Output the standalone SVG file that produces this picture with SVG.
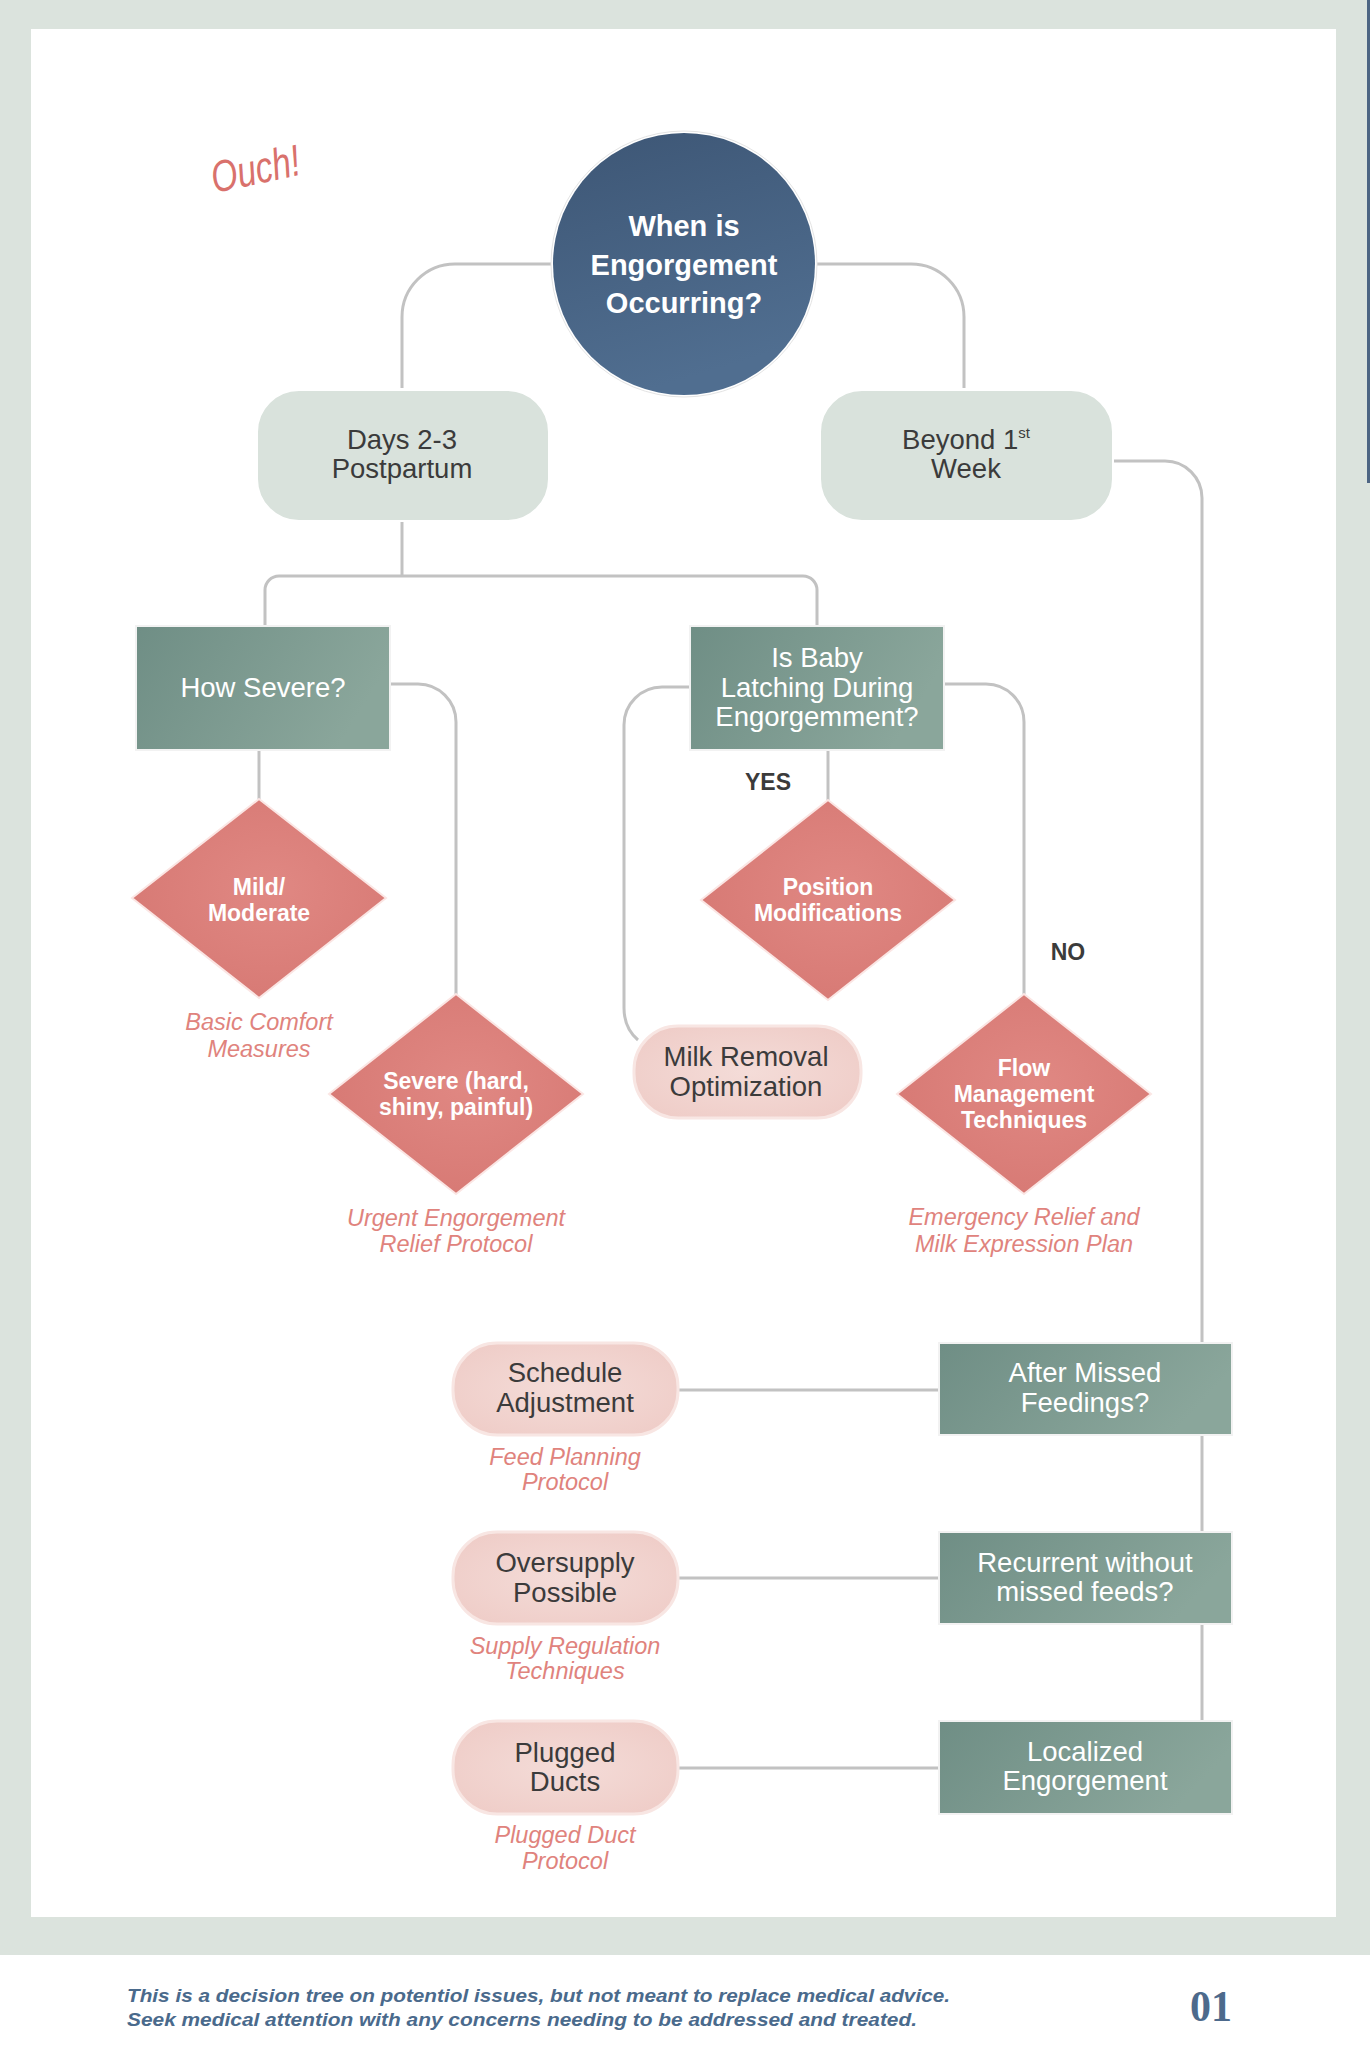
<svg xmlns="http://www.w3.org/2000/svg" width="1370" height="2054" viewBox="0 0 1370 2054">
<defs>
<linearGradient id="gCirc" x1="0" y1="0" x2="0.3" y2="1"><stop offset="0" stop-color="#3d5675"/><stop offset="1" stop-color="#506e90"/></linearGradient>
<linearGradient id="gTeal" x1="0" y1="0" x2="1" y2="0.3"><stop offset="0" stop-color="#6f8e85"/><stop offset="1" stop-color="#8aa69b"/></linearGradient>
<radialGradient id="gDia" cx="0.55" cy="0.45" r="0.6"><stop offset="0" stop-color="#e08883"/><stop offset="1" stop-color="#d77974"/></radialGradient>
<radialGradient id="gPink" cx="0.5" cy="0.5" r="0.6"><stop offset="0" stop-color="#f4dcd8"/><stop offset="1" stop-color="#efcdc8"/></radialGradient>
<style>
.conn{fill:none;stroke:#c2c2c2;stroke-width:3}
.sage{fill:#d9e2dc;stroke:#ffffff;stroke-width:2}
.teal{fill:url(#gTeal);stroke:#f2f2f2;stroke-width:2}
.dia{fill:url(#gDia);stroke:#fbe6e4;stroke-width:2}
.pill{fill:url(#gPink);stroke:#f8e6e3;stroke-width:3}
.t{font-family:"Liberation Sans",Arial,sans-serif;text-anchor:middle}
.dk{fill:#3b3b3b;font-size:27.5px}
.wt{fill:#ffffff;font-size:27.5px}
.wb{fill:#ffffff;font-size:23px;font-weight:bold}
.lb{fill:#3b3b3b;font-size:23px;font-weight:bold}
.cap{fill:#e0837d;font-size:23.5px;font-style:italic}
.foot{font-family:"Liberation Sans",Arial,sans-serif;font-size:19px;font-weight:bold;font-style:italic;fill:#4a6a8c}
</style>
</defs>
<rect x="0" y="0" width="1370" height="2054" fill="#dbe3dd"/>
<rect x="31" y="29" width="1305" height="1888" fill="#ffffff"/>
<rect x="0" y="1955" width="1370" height="99" fill="#ffffff"/>
<rect x="1367" y="0" width="3" height="483" fill="#4d6583"/>
<text x="256" y="184" transform="rotate(-12 256 172)" font-family="Liberation Sans, Arial, sans-serif" font-style="italic" font-size="44" fill="#d9716c" text-anchor="middle" textLength="90" lengthAdjust="spacingAndGlyphs">Ouch!</text>

<g id="connectors">
<path class="conn" d="M552 264 H455 A53 53 0 0 0 402 317 V388"/>
<path class="conn" d="M816 264 H911 A53 53 0 0 1 964 317 V388"/>
<path class="conn" d="M1113 461 H1165 A37 37 0 0 1 1202 498 V1343"/>
<path class="conn" d="M402 521 V576"/>
<path class="conn" d="M265 626 V590 A14 14 0 0 1 279 576 H803 A14 14 0 0 1 817 590 V626"/>
<path class="conn" d="M259 750 V799"/>
<path class="conn" d="M390 684 H418 A38 38 0 0 1 456 722 V994"/>
<path class="conn" d="M828 750 V800"/>
<path class="conn" d="M690 687 H662 A38 38 0 0 0 624 725 V1008 Q624 1028 638 1040"/>
<path class="conn" d="M944 684 H986 A38 38 0 0 1 1024 722 V994"/>
<path class="conn" d="M1202 1435 V1531"/>
<path class="conn" d="M1202 1625 V1721"/>
<path class="conn" d="M678 1390 H939"/>
<path class="conn" d="M678 1578 H939"/>
<path class="conn" d="M678 1768 H939"/>
</g>

<g id="n-root">
<circle cx="684" cy="264" r="133" fill="#ffffff" stroke="#e4e4e4" stroke-width="1"/>
<circle cx="684" cy="264" r="131" fill="url(#gCirc)"/>
<text class="t" fill="#ffffff" font-size="29" font-weight="bold"><tspan x="684" y="236">When is</tspan><tspan x="684" y="275">Engorgement</tspan><tspan x="684" y="313">Occurring?</tspan></text>
</g>

<g id="n-days">
<rect class="sage" x="257" y="390" width="292" height="131" rx="42"/>
<text class="t dk"><tspan x="402" y="449">Days 2-3</tspan><tspan x="402" y="478">Postpartum</tspan></text>
</g>

<g id="n-beyond">
<rect class="sage" x="820" y="390" width="293" height="131" rx="42"/>
<text class="t dk"><tspan x="966" y="449">Beyond 1<tspan font-size="15" dy="-11">st</tspan></tspan><tspan x="966" y="478">Week</tspan></text>
</g>

<g id="n-severity">
<rect class="teal" x="136" y="626" width="254" height="124"/>
<text class="t wt" x="263" y="697">How Severe?</text>
</g>

<g id="n-latching">
<rect class="teal" x="690" y="626" width="254" height="124"/>
<text class="t wt" font-size="27"><tspan x="817" y="667">Is Baby</tspan><tspan x="817" y="697">Latching During</tspan><tspan x="817" y="726">Engorgemment?</tspan></text>
</g>

<g id="n-yes"><text class="t lb" x="768" y="790">YES</text></g>
<g id="n-no"><text class="t lb" x="1068" y="960">NO</text></g>

<g id="n-mild">
<polygon class="dia" points="259,799 386,898 259,998 132,898"/>
<text class="t wb"><tspan x="259" y="895">Mild/</tspan><tspan x="259" y="921">Moderate</tspan></text>
<text class="t cap"><tspan x="259" y="1030">Basic Comfort</tspan><tspan x="259" y="1057">Measures</tspan></text>
</g>

<g id="n-severe">
<polygon class="dia" points="456,994 583,1094 456,1194 329,1094"/>
<text class="t wb"><tspan x="456" y="1089">Severe (hard,</tspan><tspan x="456" y="1115">shiny, painful)</tspan></text>
<text class="t cap"><tspan x="456" y="1226">Urgent Engorgement</tspan><tspan x="456" y="1252">Relief Protocol</tspan></text>
</g>

<g id="n-position">
<polygon class="dia" points="828,800 955,900 828,1000 701,900"/>
<text class="t wb"><tspan x="828" y="895">Position</tspan><tspan x="828" y="921">Modifications</tspan></text>
</g>

<g id="n-milk">
<rect class="pill" x="634" y="1026" width="227" height="92" rx="44"/>
<text class="t dk"><tspan x="746" y="1066">Milk Removal</tspan><tspan x="746" y="1096">Optimization</tspan></text>
</g>

<g id="n-flow">
<polygon class="dia" points="1024,994 1151,1094 1024,1194 897,1094"/>
<text class="t wb"><tspan x="1024" y="1076">Flow</tspan><tspan x="1024" y="1102">Management</tspan><tspan x="1024" y="1128">Techniques</tspan></text>
<text class="t cap"><tspan x="1024" y="1225">Emergency Relief and</tspan><tspan x="1024" y="1252">Milk Expression Plan</tspan></text>
</g>

<g id="n-schedule">
<rect class="pill" x="453" y="1343" width="225" height="92" rx="44"/>
<text class="t dk"><tspan x="565" y="1382">Schedule</tspan><tspan x="565" y="1412">Adjustment</tspan></text>
<text class="t cap"><tspan x="565" y="1465">Feed Planning</tspan><tspan x="565" y="1490">Protocol</tspan></text>
</g>

<g id="n-missed">
<rect class="teal" x="939" y="1343" width="293" height="92"/>
<text class="t wt" font-size="28"><tspan x="1085" y="1382">After Missed</tspan><tspan x="1085" y="1412">Feedings?</tspan></text>
</g>

<g id="n-oversupply">
<rect class="pill" x="453" y="1532" width="225" height="92" rx="44"/>
<text class="t dk"><tspan x="565" y="1572">Oversupply</tspan><tspan x="565" y="1602">Possible</tspan></text>
<text class="t cap"><tspan x="565" y="1654">Supply Regulation</tspan><tspan x="565" y="1679">Techniques</tspan></text>
</g>

<g id="n-recurrent">
<rect class="teal" x="939" y="1532" width="293" height="92"/>
<text class="t wt" font-size="28"><tspan x="1085" y="1572">Recurrent without</tspan><tspan x="1085" y="1601">missed feeds?</tspan></text>
</g>

<g id="n-plugged">
<rect class="pill" x="453" y="1721" width="225" height="93" rx="44"/>
<text class="t dk"><tspan x="565" y="1762">Plugged</tspan><tspan x="565" y="1791">Ducts</tspan></text>
<text class="t cap"><tspan x="565" y="1843">Plugged Duct</tspan><tspan x="565" y="1869">Protocol</tspan></text>
</g>

<g id="n-localized">
<rect class="teal" x="939" y="1721" width="293" height="93"/>
<text class="t wt" font-size="28"><tspan x="1085" y="1761">Localized</tspan><tspan x="1085" y="1790">Engorgement</tspan></text>
</g>

<g id="footer">
<text class="foot" x="127" y="2002" textLength="823" lengthAdjust="spacingAndGlyphs">This is a decision tree on potentiol issues, but not meant to replace medical advice.</text>
<text class="foot" x="127" y="2026" textLength="790" lengthAdjust="spacingAndGlyphs">Seek medical attention with any concerns needing to be addressed and treated.</text>
<text x="1211" y="2021" font-family="Liberation Serif, Times New Roman, serif" font-size="44" font-weight="bold" fill="#4d6a8c" text-anchor="middle" textLength="42" lengthAdjust="spacingAndGlyphs">01</text>
</g>
</svg>
